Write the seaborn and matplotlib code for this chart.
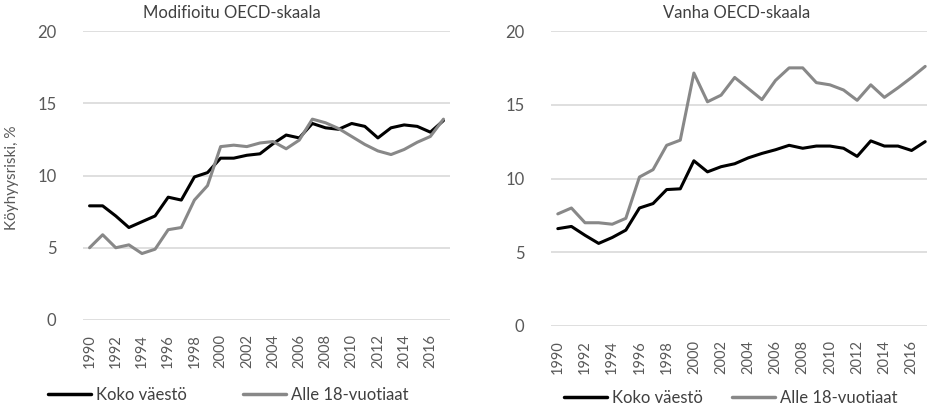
import pandas as pd
import matplotlib
matplotlib.use("Agg")
import matplotlib.pyplot as plt
import seaborn as sns
from matplotlib.lines import Line2D

sns.set_style("white")
plt.rcParams['font.family'] = ['Lato', 'DejaVu Sans']

# ----------------------------
# Data
# ----------------------------
years = list(range(1990, 2018))

# Modifioitu OECD-skaala
mod_koko = [7.9, 7.9, 7.2, 6.4, 6.8, 7.2, 8.5, 8.3, 9.9, 10.2,
            11.2, 11.2, 11.4, 11.5, 12.2, 12.8, 12.6, 13.6, 13.3, 13.2,
            13.6, 13.4, 12.6, 13.3, 13.5, 13.4, 13.0, 13.8]
mod_lapset = [5.0, 5.9, 5.0, 5.2, 4.6, 4.9, 6.25, 6.4, 8.3, 9.3,
              12.0, 12.1, 12.0, 12.25, 12.35, 11.85, 12.45, 13.9, 13.65, 13.25,
              12.7, 12.15, 11.7, 11.45, 11.8, 12.3, 12.7, 13.9]

# Vanha OECD-skaala
old_koko = [6.6, 6.75, 6.15, 5.6, 6.0, 6.5, 8.0, 8.3, 9.25, 9.3,
            11.2, 10.45, 10.8, 11.0, 11.4, 11.7, 11.95, 12.25, 12.05, 12.2,
            12.2, 12.05, 11.5, 12.55, 12.2, 12.2, 11.9, 12.5]
old_lapset = [7.6, 8.0, 7.0, 7.0, 6.9, 7.3, 10.1, 10.6, 12.25, 12.6,
              17.15, 15.2, 15.65, 16.85, 16.1, 15.35, 16.65, 17.5, 17.5, 16.5,
              16.35, 16.0, 15.3, 16.35, 15.5, 16.15, 16.85, 17.6]

series_names = ["Koko väestö", "Alle 18-vuotiaat"]
titles = ["Modifioitu OECD-skaala", "Vanha OECD-skaala"]
ylabel = "Köyhyysriski, %"

colors = {"Koko väestö": "#000000", "Alle 18-vuotiaat": "#888888"}
text_col = "#595959"
grid_col = "#d9d9d9"

W, H = 928, 405
fig = plt.figure(figsize=(W / 100, H / 100), dpi=100)

# axes boxes in pixels: left, top, right, bottom
boxes = [(83, 31, 450, 320), (551, 31, 932, 326)]
panel_data = [(mod_koko, mod_lapset), (old_koko, old_lapset)]
title_x = [232, 737]
# legend line start x for each entry, and legend row y
legend_x = [(48, 243), (564, 732)]
legend_y = [395, 398]

for box, (koko, lapset), title, tx, lxs, ly in zip(boxes, panel_data, titles, title_x, legend_x, legend_y):
    l, t, r, b = box
    ax = fig.add_axes([l / W, 1 - b / H, (r - l) / W, (b - t) / H])
    df = pd.DataFrame({
        "Vuosi": years * 2,
        "Arvo": koko + lapset,
        "Sarja": [series_names[0]] * len(years) + [series_names[1]] * len(years),
    })
    sns.lineplot(data=df, x="Vuosi", y="Arvo", hue="Sarja", palette=colors,
                 linewidth=2.2, ax=ax, legend=False)

    ax.set_xlim(1989.5, 2017.5)
    ax.set_ylim(0, 20)
    ax.set_yticks([0, 5, 10, 15, 20])
    ax.set_xticks(years[::2])
    ax.set_xticklabels([str(y) for y in years[::2]], rotation=90, fontsize=10.5, color=text_col)
    ax.tick_params(axis='y', labelsize=12, labelcolor=text_col, length=0, pad=19)
    ax.tick_params(axis='x', length=0, pad=10)
    ax.grid(axis='y', color=grid_col, linewidth=1.2)
    ax.set_axisbelow(True)
    for s in ax.spines.values():
        s.set_visible(False)
    ax.set_xlabel("")
    ax.set_ylabel("")

    fig.text(tx / W, 1 - 13 / H, title, ha='center', va='center', fontsize=12, color="#404040")

    # one legend entry per series, placed where the reference has it
    for name, lx in zip(series_names, lxs):
        h = Line2D([], [], color=colors[name], linewidth=2.5)
        fig.legend([h], [name], loc='center left', bbox_to_anchor=(lx / W, 1 - ly / H),
                   frameon=False, fontsize=12, handlelength=2.6, handletextpad=0.3,
                   borderpad=0, borderaxespad=0, labelcolor="#404040")

fig.text(12 / W, 1 - 178 / H, ylabel, rotation=90, ha='center', va='center', fontsize=11, color=text_col)

fig.savefig("out.png", dpi=100)
